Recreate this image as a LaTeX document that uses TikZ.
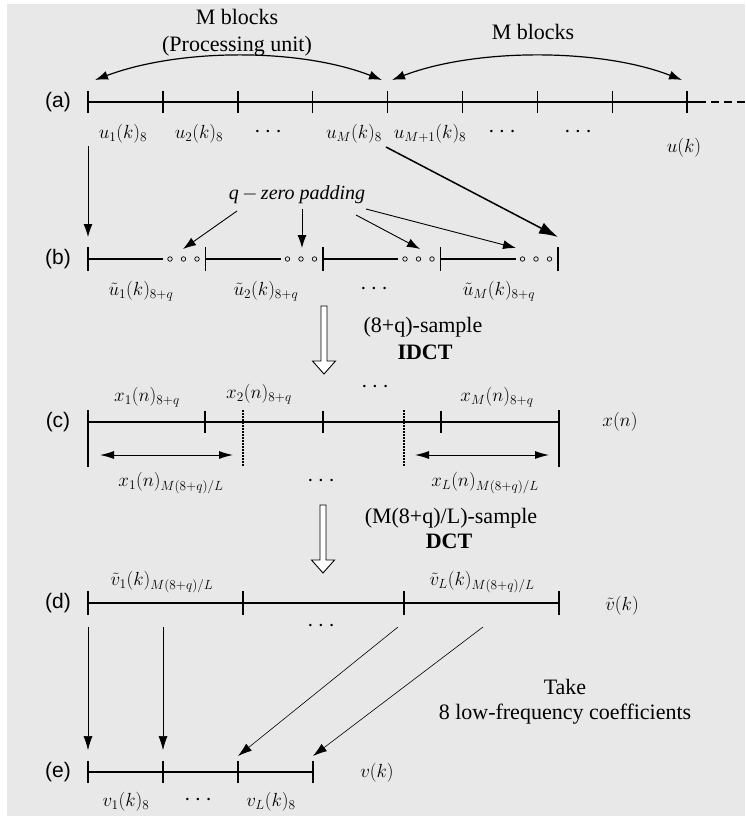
\RequirePackage{fix-cm}
\documentclass[tikz,border=0pt]{standalone}
\usepackage{amsmath}
\usepackage{fontspec}
\setmainfont{Liberation Serif}
\setsansfont{Liberation Sans}
\usepackage{tikz}
\usetikzlibrary{arrows.meta,positioning}
\definecolor{panelgray}{RGB}{232,232,232}

\tikzset{
    fatarrow/.pic={
        \draw[line width=0.9pt, fill=white] (-3,0) -- (3,0) -- (3,55) -- (11.5,55)
            -- (0,68) -- (-11.5,55) -- (-3,55) -- cycle;
    }
}

\begin{document}
\begin{tikzpicture}[x=1pt,y=-1pt,
        axisline/.style={line width=1.4pt},
        boldline/.style={line width=2.4pt},
        tickmark/.style={line width=1.5pt},
        rowlabel/.style={font=\sffamily\fontsize{21}{23}\selectfont},
        sym/.style={font=\fontsize{19}{21}\selectfont, inner sep=0pt},
        dotsym/.style={font=\fontsize{24}{24}\selectfont, inner sep=0pt},
        words/.style={font=\fontsize{22}{25}\selectfont, inner sep=0pt},
        boldwords/.style={font=\bfseries\fontsize{22}{25}\selectfont, inner sep=0pt},
        pointer/.style={-{Latex[length=13pt,width=9pt]}, line width=0.9pt},
        thinpointer/.style={-{Latex[length=14pt,width=9pt]}, line width=0.6pt},
        bigpointer/.style={-{Latex[length=19pt,width=12pt]}, line width=1.5pt},
        spanarrow/.style={{Latex[length=14pt,width=8pt]}-{Latex[length=14pt,width=8pt]}, line width=1pt},
        bracearrow/.style={{Latex[length=13pt,width=9pt]}-{Latex[length=13pt,width=9pt]}, line width=1.2pt},
        zerodot/.style={circle, draw, line width=0.7pt, inner sep=0pt, minimum size=4.5pt},
    ]
    \useasboundingbox (0,0) rectangle (745,819);
    \fill[panelgray] (7,4) rectangle (745,816);

    % (a) input blocks
    \node[rowlabel] (la) at (58,102) {(a)};
    \foreach \i in {0,...,8}
        \coordinate (a\i) at ({88+74.9*\i},102);
    \coordinate (aend) at (698,102);
    \coordinate (atail) at (745,102);
    \draw[axisline] (a0) -- (aend);
    \draw[axisline, dash pattern=on 8pt off 5pt] (aend) -- (atail);
    \foreach \i in {0,...,8}
        \draw[tickmark] ([yshift=11pt]a\i) -- ([yshift=-11pt]a\i);

    \node[sym] (u1) at (123,134) {$u_1(k)_8$};
    \node[sym] (u2) at (199,134) {$u_2(k)_8$};
    \node[dotsym] (udots1) at (270,132) {$\cdots$};
    \node[sym] (uM) at (354,134) {$u_M(k)_8$};
    \node[sym] (uMM) at (430,134) {$u_{M+1}(k)_8$};
    \node[dotsym] (udots2) at (504,132) {$\cdots$};
    \node[dotsym] (udots3) at (580,132) {$\cdots$};
    \node[sym] (uk) at (684,148) {$u(k)$};

    \node[words] (blk1) at (237,17) {M blocks};
    \node[words] (unit) at (237,46) {(Processing unit)};
    \node[words] (blk2) at (533,32) {M blocks};
    \coordinate (arc1s) at (95,80);
    \coordinate (arc1e) at (382,80);
    \coordinate (arc2s) at (392,80);
    \coordinate (arc2e) at (682,80);
    \draw[bracearrow] (arc1s) .. controls (180,48) and (300,48) .. (arc1e);
    \draw[bracearrow] (arc2s) .. controls (475,48) and (600,48) .. (arc2e);

    % (b) zero padded blocks
    \node[rowlabel] (lb) at (58,259) {(b)};
    \foreach \i in {0,...,4}
        \coordinate (b\i) at ({88+117.5*\i},259);
    \foreach \i in {0,...,3} {
        \draw[axisline] (b\i) -- ++(75,0);
        \foreach \d in {82,95.5,109}
            \node[zerodot] at ([xshift=\d pt]b\i) {};
    }
    \foreach \i in {0,...,4}
        \draw[tickmark] ([yshift=12pt]b\i) -- ([yshift=-12pt]b\i);

    \node[sym] (ut1) at (141,291) {$\tilde{u}_1(k)_{8+q}$};
    \node[sym] (ut2) at (266,291) {$\tilde{u}_2(k)_{8+q}$};
    \node[dotsym] (utdots) at (376,289) {$\cdots$};
    \node[sym] (utM) at (499,291) {$\tilde{u}_M(k)_{8+q}$};

    \node[font=\itshape\fontsize{20}{22}\selectfont, inner sep=0pt] (qpad) at (297,195) {q$\,-\,$zero padding};
    \coordinate (q1) at (237,211);
    \coordinate (q2) at (302,209);
    \coordinate (q3) at (356,215);
    \coordinate (q4) at (366,209);
    \coordinate (p1) at (183,249);
    \coordinate (p2) at (302,248);
    \coordinate (p3) at (420,249);
    \coordinate (p4) at (516,248);
    \draw[pointer] (q1) -- (p1);
    \draw[pointer] (q2) -- (p2);
    \draw[pointer] (q3) -- (p3);
    \draw[pointer] (q4) -- (p4);

    \coordinate (dropa) at (88,146);
    \coordinate (dropb) at (88,237);
    \coordinate (uMfoot) at (386,147);
    \coordinate (bend) at (558,237);
    \draw[pointer] (dropa) -- (dropb);
    \draw[bigpointer] (uMfoot) -- (bend);

    % IDCT step
    \pic at (324,306) {fatarrow};
    \node[words] (idcta) at (423,327) {(8+q)-sample};
    \node[boldwords] (idctb) at (425,352) {IDCT};

    % (c) time signal
    \node[rowlabel] (lc) at (58,422) {(c)};
    \coordinate (c0) at (88,422);
    \coordinate (c1) at (559,422);
    \draw[boldline] (c0) -- (c1);
    \foreach \x in {205,323,441}
        \draw[tickmark] (\x,411) -- (\x,433);
    \foreach \x in {88,559}
        \draw[tickmark] (\x,410) -- (\x,467);
    \foreach \x in {243,404}
        \draw[tickmark, dash pattern=on 2pt off 1pt] (\x,410) -- (\x,466);

    \node[sym] (x1) at (147,397) {$x_1(n)_{8+q}$};
    \node[sym] (x2) at (259,394) {$x_2(n)_{8+q}$};
    \node[dotsym] (xdots1) at (377,387) {$\cdots$};
    \node[sym] (xM) at (497,397) {$x_M(n)_{8+q}$};
    \node[sym] (xn) at (620,422) {$x(n)$};

    \coordinate (s1a) at (100,455);
    \coordinate (s1b) at (233,455);
    \coordinate (s2a) at (415,455);
    \coordinate (s2b) at (549,455);
    \draw[spanarrow] (s1a) -- (s1b);
    \draw[spanarrow] (s2a) -- (s2b);

    \node[sym] (xl1) at (171,483) {$x_1(n)_{M(8+q)/L}$};
    \node[dotsym] (xdots2) at (323,481) {$\cdots$};
    \node[sym] (xlL) at (485,483) {$x_L(n)_{M(8+q)/L}$};

    % DCT step
    \pic at (323,505) {fatarrow};
    \node[words] (dcta) at (451,518) {(M(8+q)/L)-sample};
    \node[boldwords] (dctb) at (449,541) {DCT};

    % (d) DCT coefficients
    \node[rowlabel] (ld) at (58,603) {(d)};
    \coordinate (d0) at (88,603);
    \coordinate (d1) at (559,603);
    \draw[boldline] (d0) -- (d1);
    \foreach \x in {88,243,404,559}
        \draw[tickmark] (\x,591) -- (\x,615);

    \node[sym] (vt1) at (162,582) {$\tilde{v}_1(k)_{M(8+q)/L}$};
    \node[sym] (vtL) at (482,582) {$\tilde{v}_L(k)_{M(8+q)/L}$};
    \node[sym] (vt) at (622,606) {$\tilde{v}(k)$};
    \node[dotsym] (vdots) at (323,626) {$\cdots$};

    % (e) kept coefficients
    \node[rowlabel] (le) at (58,772) {(e)};
    \coordinate (e0) at (88,772);
    \coordinate (e1) at (313,772);
    \draw[boldline] (e0) -- (e1);
    \foreach \x in {88,163,238,313}
        \draw[tickmark] (\x,761) -- (\x,783);

    \node[sym] (v1) at (126,802) {$v_1(k)_8$};
    \node[dotsym] (vedots) at (200,800) {$\cdots$};
    \node[sym] (vL) at (271,802) {$v_L(k)_8$};
    \node[sym] (vk) at (377,773) {$v(k)$};

    \coordinate (k1a) at (88,627);
    \coordinate (k1b) at (88,750);
    \coordinate (k2a) at (163,627);
    \coordinate (k2b) at (163,750);
    \coordinate (k3a) at (398,627);
    \coordinate (k3b) at (238,756);
    \coordinate (k4a) at (483,627);
    \coordinate (k4b) at (313,756);
    \draw[thinpointer] (k1a) -- (k1b);
    \draw[thinpointer] (k2a) -- (k2b);
    \draw[thinpointer] (k3a) -- (k3b);
    \draw[thinpointer] (k4a) -- (k4b);

    \node[words] (take) at (565,687) {Take};
    \node[words] (lowf) at (565,714) {8 low-frequency coefficients};
\end{tikzpicture}
\end{document}
